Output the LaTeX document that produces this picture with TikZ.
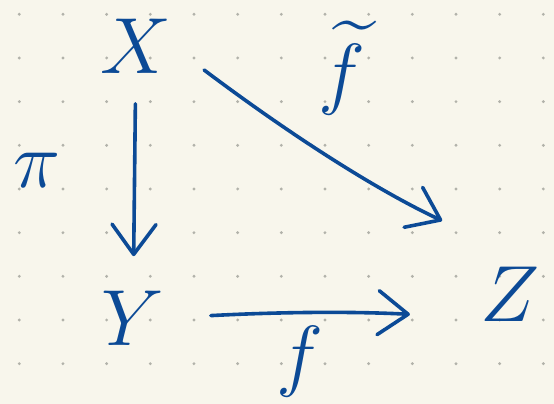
\documentclass[tikz,border=0pt]{standalone}
\usepackage{amsmath,amssymb}
\usetikzlibrary{arrows.meta}
\definecolor{ink}{RGB}{12,74,150}
\definecolor{paper}{RGB}{248,246,236}
\definecolor{dotgray}{RGB}{178,178,170}

\begin{document}
\begin{tikzpicture}[x=1pt,y=-1pt,
    lbl/.style={ink,inner sep=0pt,font=\Huge,scale=3.2},
    arr/.style={ink,line width=3.6pt,line cap=round,line join=round,
        -{Straight Barb[round,length=30pt,width=44pt]}}]
    \fill[paper] (0,0) rectangle (554,404);
    \useasboundingbox (0,0) rectangle (554,404);
    \foreach \i in {0,...,12}
        \foreach \j in {0,...,8}
            \fill[dotgray] (19.3+43.67*\i,14.3+43.67*\j) circle (1.6pt);
    \node[lbl] (X) at (136,46) {$X$};
    \node[lbl] (Y) at (133,318) {$Y$};
    \node[lbl] (Z) at (510,294) {$Z$};
    \node[lbl] (ft) at (342,68) {$\widetilde{f}$};
    \node[lbl] (f) at (300,362) {$f$};
    \node[lbl] (pi) at (37,170) {$\pi$};
    \draw[arr,shorten <=30pt,shorten >=34pt] (X) -- (Y);
    \draw[arr,shorten <=40pt,shorten >=108pt] (X.east) to[bend right=6] (Z.north east);
    \draw[arr,shorten <=46pt,shorten >=70pt] (Y.east) to[bend left=3] (Y.east -| Z.west);
\end{tikzpicture}
\end{document}
